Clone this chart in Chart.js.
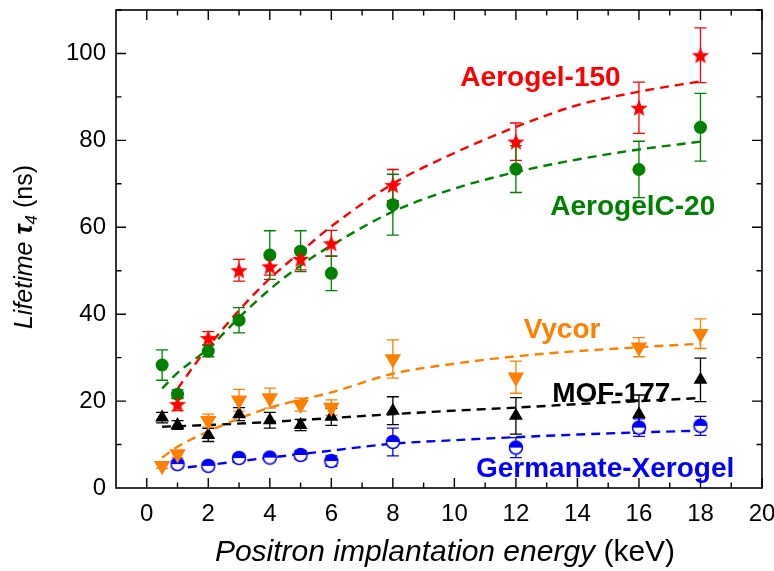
<!DOCTYPE html>
<html>
<head>
<meta charset="utf-8">
<script src="https://cdn.jsdelivr.net/npm/chart.js@4.4.1/dist/chart.umd.min.js"></script>
<style>
  html, body { margin: 0; padding: 0; background: #fff; }
</style>
</head>
<body>
<canvas id="lifetimeChart" width="774" height="571"></canvas>
<script>
// tick labels
const xTickLabels = [0, 2, 4, 6, 8, 10, 12, 14, 16, 18, 20];
const yTickLabels = [0, 20, 40, 60, 80, 100];

// measured points (energy in keV, tau4 in ns, symmetric error)
const aerogel150E   = [1, 2, 3, 4, 5, 6, 8, 12, 16, 18];
const aerogel150Tau = [19.3, 34.5, 50.1, 51.0, 52.7, 56.3, 69.7, 79.7, 87.5, 99.6];
const aerogel150Err = [1.5, 1.5, 2.5, 2.0, 2.5, 3.0, 3.6, 4.3, 5.9, 6.3];

const aerogelC20E   = [0.5, 1, 2, 3, 4, 5, 6, 8, 12, 16, 18];
const aerogelC20Tau = [28.3, 21.6, 31.5, 38.6, 53.6, 54.5, 49.4, 65.2, 73.4, 73.3, 83.0];
const aerogelC20Err = [3.5, 1.0, 1.3, 2.9, 5.6, 4.7, 4.0, 7.0, 5.4, 6.5, 7.8];

const vycorE   = [0.5, 1, 2, 3, 4, 5, 6, 8, 12, 16, 18];
const vycorTau = [5.1, 7.8, 15.5, 20.2, 20.7, 19.2, 18.5, 29.7, 25.5, 32.4, 35.5];
const vycorErr = [0.6, 0.8, 1.5, 2.5, 2.3, 1.5, 1.8, 4.4, 3.7, 2.2, 3.4];

const mofE   = [0.5, 1, 2, 3, 4, 5, 6, 8, 12, 16, 18];
const mofTau = [16.2, 14.5, 12.2, 17.0, 15.6, 14.5, 16.4, 17.8, 16.6, 17.0, 24.9];
const mofErr = [1.2, 1.0, 1.5, 1.5, 1.8, 1.3, 2.0, 3.2, 4.2, 4.4, 5.0];

const germanateE   = [1, 2, 3, 4, 5, 6, 8, 12, 16, 18];
const germanateTau = [5.5, 5.1, 6.9, 7.0, 7.6, 6.2, 10.6, 9.3, 13.9, 14.3];
const germanateErr = [0.8, 0.8, 0.6, 0.6, 1.0, 1.2, 3.2, 2.3, 2.0, 2.2];

// fitted curves
const aerogel150FitE   = [1, 1.5, 2, 3, 4, 5, 6, 8, 10, 12, 14, 16, 18];
const aerogel150FitTau = [22.8, 27.8, 32.5, 40.9, 48.2, 54.3, 60.2, 70.0, 77.1, 83.1, 88.1, 91.2, 93.6];
const aerogelC20FitE   = [0.5, 1, 2, 3, 4, 5, 6, 8, 10, 12, 14, 16, 18];
const aerogelC20FitTau = [22.9, 26.5, 32.1, 39.2, 45.7, 51.2, 55.8, 63.6, 68.9, 72.7, 75.6, 77.9, 79.7];
const vycorFitE   = [0.5, 1, 2, 3, 4, 5, 6, 8, 10, 12, 14, 16, 18];
const vycorFitTau = [7.0, 9.5, 13.0, 16.0, 18.5, 20.3, 22.0, 26.3, 28.6, 30.3, 31.5, 32.4, 33.2];
const mofFitE   = [0.5, 2, 4, 6, 8, 10, 12, 14, 16, 18];
const mofFitTau = [14.1, 14.5, 15.2, 16.1, 17.0, 17.8, 18.5, 19.3, 20.0, 20.7];
const germanateFitE   = [0.85, 2, 4, 6, 8, 10, 12, 14, 16, 18];
const germanateFitTau = [4.4, 5.3, 7.0, 8.6, 10.2, 11.0, 11.7, 12.3, 12.8, 13.2];

const RED = '#ff0000', GREEN = '#008000', ORANGE = '#ff8000', BLACK = '#000000', BLUE = '#0000ff';
const FONT = '"Liberation Sans", Arial, sans-serif';

// in-plot series labels (data coords of text centre / baseline)
const seriesLabels = [
  { text: 'Aerogel-150',       x: 12.8, y: 92.6, color: RED },
  { text: 'AerogelC-20',       x: 15.8, y: 62.8, color: GREEN },
  { text: 'Vycor',             x: 13.5, y: 34.5, color: ORANGE },
  { text: 'MOF-177',           x: 15.1, y: 19.7, color: BLACK },
  { text: 'Germanate-Xerogel', x: 14.9, y: 2.5,  color: BLUE }
];

function zip(xs, ys) {
  return xs.map((x, i) => ({ x: x, y: ys[i] }));
}

// custom marker images
function makeStar(color, rOut, rIn) {
  const c = document.createElement('canvas');
  const s = Math.ceil(rOut * 2 + 2);
  c.width = s; c.height = s;
  const g = c.getContext('2d');
  g.translate(s / 2, s / 2 + 0.8);
  g.beginPath();
  for (let i = 0; i < 10; i++) {
    const r = i % 2 === 0 ? rOut : rIn;
    const a = -Math.PI / 2 + i * Math.PI / 5;
    g.lineTo(r * Math.cos(a), r * Math.sin(a));
  }
  g.closePath();
  g.fillStyle = color;
  g.fill();
  return c;
}

function makeHalfCircle(color, r) {
  const c = document.createElement('canvas');
  const s = Math.ceil(r * 2 + 3);
  c.width = s; c.height = s;
  const g = c.getContext('2d');
  g.translate(s / 2, s / 2);
  g.beginPath();
  g.arc(0, 0, r, 0, Math.PI * 2);
  g.fillStyle = '#ffffff';
  g.fill();
  g.beginPath();
  g.arc(0, 0, r, Math.PI, Math.PI * 2);
  g.closePath();
  g.fillStyle = color;
  g.fill();
  g.beginPath();
  g.arc(0, 0, r, 0, Math.PI * 2);
  g.lineWidth = 1.5;
  g.strokeStyle = color;
  g.stroke();
  return c;
}

const starImg = makeStar(RED, 9, 3.9);
const halfImg = makeHalfCircle(BLUE, 6.5);

function markerSet(label, xs, ys, errs, color, style) {
  return Object.assign({
    label: label,
    data: zip(xs, ys),
    errors: errs,
    errColor: color,
    showLine: false,
    backgroundColor: color,
    borderColor: color,
    borderWidth: 0,
    order: 0
  }, style);
}

function fitSet(label, xs, ys, color) {
  return {
    label: label,
    data: zip(xs, ys),
    showLine: true,
    borderColor: color,
    borderWidth: 2.4,
    borderDash: [9, 6],
    pointRadius: 0,
    cubicInterpolationMode: 'monotone',
    fill: false,
    order: 5
  };
}

const chartDecor = {
  id: 'chartDecor',
  beforeDatasetsDraw(chart) {
    const ctx = chart.ctx;
    const ys = chart.scales.y;
    ctx.save();
    ctx.lineWidth = 1.3;
    chart.data.datasets.forEach((ds, i) => {
      if (!ds.errors) return;
      const meta = chart.getDatasetMeta(i);
      ctx.strokeStyle = ds.errColor;
      meta.data.forEach((pt, j) => {
        const v = ds.data[j].y, e = ds.errors[j];
        const top = ys.getPixelForValue(v + e);
        const bot = ys.getPixelForValue(v - e);
        const x = pt.x;
        ctx.beginPath();
        ctx.moveTo(x, top); ctx.lineTo(x, bot);
        ctx.moveTo(x - 6, top); ctx.lineTo(x + 6, top);
        ctx.moveTo(x - 6, bot); ctx.lineTo(x + 6, bot);
        ctx.stroke();
      });
    });
    ctx.restore();
  },
  afterDraw(chart) {
    const ctx = chart.ctx;
    const a = chart.chartArea;
    const xs = chart.scales.x, ys = chart.scales.y;
    ctx.save();
    // frame
    ctx.strokeStyle = '#000';
    ctx.lineWidth = 1.6;
    ctx.strokeRect(a.left, a.top, a.right - a.left, a.bottom - a.top);
    // inward ticks on all four sides
    ctx.lineWidth = 1.4;
    ctx.beginPath();
    for (let v = 0; v <= 20; v++) {
      const px = xs.getPixelForValue(v);
      const len = v % 2 === 0 ? 10 : 5.5;
      ctx.moveTo(px, a.bottom); ctx.lineTo(px, a.bottom - len);
      ctx.moveTo(px, a.top); ctx.lineTo(px, a.top + len);
    }
    for (let v = 10; v <= 110; v += 10) {
      const py = ys.getPixelForValue(v);
      const len = v % 20 === 0 ? 10 : 5.5;
      ctx.moveTo(a.left, py); ctx.lineTo(a.left + len, py);
      ctx.moveTo(a.right, py); ctx.lineTo(a.right - len, py);
    }
    ctx.stroke();

    // series labels
    ctx.font = 'bold 28px ' + FONT;
    ctx.textAlign = 'center';
    ctx.textBaseline = 'alphabetic';
    seriesLabels.forEach(l => {
      ctx.fillStyle = l.color;
      ctx.fillText(l.text, xs.getPixelForValue(l.x), ys.getPixelForValue(l.y));
    });

    // axis titles with mixed styles
    ctx.fillStyle = '#000';
    ctx.textAlign = 'left';
    drawRuns(ctx, [
      { text: 'Positron implantation energy', font: 'italic 30px ' + FONT },
      { text: ' (keV)', font: '30px ' + FONT }
    ], (a.left + a.right) / 2 + 6, 561);

    ctx.translate(32, 247);
    ctx.rotate(-Math.PI / 2);
    drawRuns(ctx, [
      { text: 'Lifetime ', font: 'italic 25px ' + FONT },
      { text: '\u03c4', font: 'italic bold 25px ' + FONT },
      { text: '4', font: 'italic 17px ' + FONT, dy: 5 },
      { text: ' (ns)', font: '25px ' + FONT }
    ], 0, 0);
    ctx.restore();
  }
};

function drawRuns(ctx, runs, cx, y) {
  let total = 0;
  runs.forEach(r => { ctx.font = r.font; r.w = ctx.measureText(r.text).width; total += r.w; });
  let x = cx - total / 2;
  runs.forEach(r => {
    ctx.font = r.font;
    ctx.fillText(r.text, x, y + (r.dy || 0));
    x += r.w;
  });
}

const ctx = document.getElementById('lifetimeChart');
const lifetimeChart = new Chart(ctx, {
  type: 'scatter',
  data: {
    datasets: [
      markerSet('Aerogel-150', aerogel150E, aerogel150Tau, aerogel150Err, RED,
        { pointStyle: starImg }),
      markerSet('AerogelC-20', aerogelC20E, aerogelC20Tau, aerogelC20Err, GREEN,
        { pointStyle: 'circle', pointRadius: 6.5 }),
      markerSet('Vycor', vycorE, vycorTau, vycorErr, ORANGE,
        { pointStyle: 'triangle', pointRadius: 9.5, rotation: 180 }),
      markerSet('MOF-177', mofE, mofTau, mofErr, BLACK,
        { pointStyle: 'triangle', pointRadius: 8 }),
      markerSet('Germanate-Xerogel', germanateE, germanateTau, germanateErr, BLUE,
        { pointStyle: halfImg }),
      fitSet('Aerogel-150 fit', aerogel150FitE, aerogel150FitTau, RED),
      fitSet('AerogelC-20 fit', aerogelC20FitE, aerogelC20FitTau, GREEN),
      fitSet('Vycor fit', vycorFitE, vycorFitTau, ORANGE),
      fitSet('MOF-177 fit', mofFitE, mofFitTau, BLACK),
      fitSet('Germanate-Xerogel fit', germanateFitE, germanateFitTau, BLUE)
    ]
  },
  options: {
    responsive: false,
    animation: false,
    layout: { padding: { left: 0, top: 10, right: 12, bottom: 0 } },
    scales: {
      x: {
        type: 'linear',
        min: -1,
        max: 20,
        grid: { display: false, drawTicks: false },
        border: { display: false },
        afterBuildTicks: s => { s.ticks = xTickLabels.map(v => ({ value: v })); },
        afterFit: s => { s.height = 83; s.paddingLeft = 0; s.paddingRight = 0; },
        ticks: { padding: 12, color: '#000', font: { family: FONT, size: 24 }, maxRotation: 0 }
      },
      y: {
        type: 'linear',
        min: 0,
        max: 110,
        grid: { display: false, drawTicks: false },
        border: { display: false },
        afterBuildTicks: s => { s.ticks = yTickLabels.map(v => ({ value: v })); },
        afterFit: s => { s.width = 116; s.paddingTop = 0; s.paddingBottom = 0; },
        ticks: { padding: 10, color: '#000', font: { family: FONT, size: 24 } }
      }
    },
    plugins: {
      legend: { display: false },
      tooltip: { enabled: false }
    }
  },
  plugins: [chartDecor]
});
</script>
</body>
</html>
